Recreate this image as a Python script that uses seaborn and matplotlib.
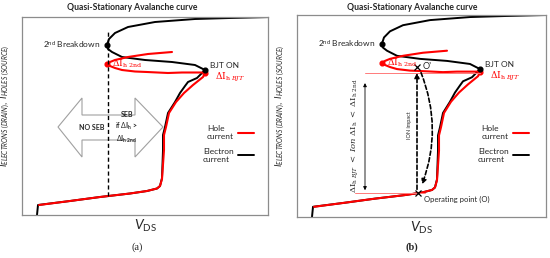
import matplotlib.pyplot as plt
import matplotlib.patches as mpatches
import numpy as np
import seaborn as sns

sns.set_style("white")
plt.rcParams["font.family"] = ["Lato", "DejaVu Sans"]
plt.rcParams["mathtext.fontset"] = "custom"
plt.rcParams["mathtext.it"] = "Lato:italic"
plt.rcParams["mathtext.rm"] = "Lato"
plt.rcParams["mathtext.bf"] = "Lato:bold"

# --- schematic curve data (V_DS vs current, arbitrary units) ---
electron_v = [15, 16, 48, 78, 108, 125, 135, 138, 140, 141, 141, 143, 146, 153,
              158, 163, 166, 175, 183, 173, 150, 123, 100, 90, 86, 85, 87, 93,
              106, 133, 173, 208, 249]
electron_i = [0, 10, 14, 18, 21.5, 24, 26.5, 29, 37, 65, 80, 88, 102, 113,
              122, 129, 133, 137, 145, 150, 153, 155, 158, 163, 166, 170, 176, 182,
              188, 193, 196, 197, 198]
hole_v = [17, 48, 78, 108, 125, 135, 138, 140, 142, 142, 144, 147, 154, 162,
          171, 181, 183, 180, 160, 146, 125, 113, 100, 93, 88, 85, 88, 93,
          106, 126, 150]
hole_i = [10, 14, 18, 21.5, 24, 26.5, 29, 36, 65, 80, 88, 102, 113, 122,
          130, 138, 142, 142.5, 142.5, 142, 143, 143.5, 145, 147, 149, 151, 153, 155,
          158, 161, 163]
BREAKDOWN_IDX = 25   # 2nd breakdown on the electron curve
BJT_E_IDX = 18       # BJT ON on the electron curve
HOLE_2ND_IDX = 25    # ΔIh 2nd on the hole curve
BJT_H_IDX = 16       # ΔIh BJT on the hole curve

seb_v = 86           # SEB boundary voltage
op_v = 121           # operating point O
op_prime_i = 147     # O' current level

RED = "#FF0000"
SPINE = "#8c8c8c"
SERIF_MATH = "dejavuserif"

fig = plt.figure(figsize=(5.5, 2.58), dpi=100)
ax_a = fig.add_axes([22 / 550, 43 / 258, 246 / 550, 198 / 258])
ax_b = fig.add_axes([297 / 550, 41 / 258, 249 / 550, 202 / 258])


def draw_curves(ax, xmax):
    sns.lineplot(x=electron_v, y=electron_i, sort=False, estimator=None,
                 color="black", lw=1.4, ax=ax, label="Electron\ncurrent")
    sns.lineplot(x=hole_v, y=hole_i, sort=False, estimator=None,
                 color=RED, lw=1.5, ax=ax, label="Hole\ncurrent")
    ax.plot([hole_v[HOLE_2ND_IDX], hole_v[BJT_H_IDX]],
            [hole_i[HOLE_2ND_IDX], hole_i[BJT_H_IDX]],
            "o", color=RED, ms=3.4, ls="none")
    ax.plot([electron_v[BREAKDOWN_IDX], electron_v[BJT_E_IDX]],
            [electron_i[BREAKDOWN_IDX], electron_i[BJT_E_IDX]],
            "o", color="black", ms=3.4, ls="none")
    ax.set_xlim(0, xmax)
    ax.set_ylim(0, 198)
    ax.set_xticks([])
    ax.set_yticks([])
    for s in ax.spines.values():
        s.set_color(SPINE)
        s.set_linewidth(0.9)

    # labels on the curve
    ax.text(electron_v[BREAKDOWN_IDX] - 7, electron_i[BREAKDOWN_IDX],
            "2$^{\\rm nd}$ Breakdown", fontsize=6, ha="right", va="center")
    ax.text(188, 149, "BJT ON", fontsize=6, ha="left", va="center")
    ax.text(hole_v[HOLE_2ND_IDX] + 5, hole_i[HOLE_2ND_IDX],
            r"$\Delta \mathrm{I}_{\mathrm{h\ 2nd}}$", color=RED, fontsize=6.5,
            ha="left", va="center", math_fontfamily=SERIF_MATH)
    ax.text(193, 138, r"$\Delta \mathrm{I}_{\mathrm{h}\ \mathit{BJT}}$", color=RED,
            fontsize=6.5, ha="left", va="center", math_fontfamily=SERIF_MATH)

    h, l = ax.get_legend_handles_labels()
    ax.legend(h[::-1], l[::-1], loc="upper left", bbox_to_anchor=(181 / xmax, 0.455),
              frameon=False, markerfirst=False, fontsize=6, borderpad=0,
              borderaxespad=0, handlelength=1.9, handletextpad=0.5, labelspacing=0.9)

    ax.set_xlabel(r"$\mathit{V}_{\mathrm{DS}}$", fontsize=10, labelpad=2)
    ax.set_ylabel(r"$\mathit{I}_{\mathit{ELECTRONS\ (DRAIN)}},\ \mathit{I}_{\mathit{HOLES\ (SOURCE)}}$",
                  fontsize=6.8)
    ax.yaxis.set_label_coords(-10 / xmax, 0.55)


draw_curves(ax_a, 246)
draw_curves(ax_b, 249)

# --- panel (a): SEB boundary and block arrow ---
seb_bottom = np.interp(seb_v, electron_v[:9], electron_i[:9])
ax_a.plot([seb_v, seb_v], [seb_bottom, 185], color="black", lw=1.0,
          dashes=(3, 2), zorder=5)
arrow_pts = [(36, 88), (60, 117), (60, 100), (113, 100), (113, 117), (141, 88),
             (113, 58), (113, 75), (60, 75), (60, 58)]
ax_a.add_patch(mpatches.Polygon(arrow_pts, closed=True, facecolor="white",
                                edgecolor="#a0a0a0", lw=0.8, zorder=4))
ax_a.text(70, 88, "NO SEB", fontsize=5, fontweight="bold", ha="center",
          va="center", zorder=6)
ax_a.text(105, 87, "SEB\nif $\\Delta\\mathbf{I}_{\\mathbf{h}}$ >\n$\\Delta\\mathit{\\mathbf{I}}_{\\mathbf{h\\ 2nd}}$",
          fontsize=5, fontweight="bold", ha="center", va="center", zorder=6,
          linespacing=1.25)

# --- panel (b): ion impact path ---
op_i = np.interp(op_v, hole_v[:8], hole_i[:8])
hole_bjt = hole_i[BJT_H_IDX]
ax_b.plot([68, hole_v[BJT_H_IDX]], [hole_bjt - 1, hole_bjt - 1], color="#ff7a7a", lw=0.7)
ax_b.plot([58, op_v + 7], [op_i, op_i], color="#ff7a7a", lw=0.7)
ax_b.annotate("", xy=(68, 134), xytext=(68, 23.5),
              arrowprops=dict(arrowstyle="<|-|>", color="black", lw=0.6,
                              mutation_scale=5))
ax_b.text(58, 80,
          r"$\Delta \mathrm{I}_{\mathrm{h}\ \mathit{BJT}}\ <\ \mathit{Ion}\ \Delta \mathrm{I}_{\mathrm{h}}\ <\ \Delta \mathrm{I}_{\mathrm{h\ 2nd}}$",
          rotation=90, fontsize=6, ha="center", va="center",
          math_fontfamily=SERIF_MATH)
ax_b.annotate("", xy=(op_v - 1, op_prime_i - 3), xytext=(op_v - 1, op_i + 1),
              arrowprops=dict(arrowstyle="-|>", color="black", lw=1.2,
                              linestyle=(0, (2.5, 1.5)), mutation_scale=7))
ax_b.annotate("", xy=(op_v + 3, op_i + 6), xytext=(op_v + 2, op_prime_i - 3),
              arrowprops=dict(arrowstyle="-|>", color="black", lw=1.2,
                              linestyle=(0, (2.5, 1.5)), mutation_scale=7,
                              connectionstyle="arc3,rad=-0.2"))
ax_b.text(113, 90, "ION impact", rotation=90, fontsize=4, ha="center", va="center")
ax_b.plot([op_v, op_v - 1], [op_i, op_prime_i], "x", color="black", ms=4.5, mew=0.9)
ax_b.text(op_v + 5, op_prime_i + 1, "O'", fontsize=6.5, ha="left", va="center")
ax_b.text(op_v + 6, op_i - 6, "Operating point (O)", fontsize=5.5, ha="left",
          va="center")

# --- titles and panel tags ---
fig.text(132 / 550, 1 - 8 / 258, "Quasi-Stationary Avalanche curve", fontsize=6.2,
         fontweight="bold", ha="center", va="center")
fig.text(412 / 550, 1 - 8 / 258, "Quasi-Stationary Avalanche curve", fontsize=6.2,
         fontweight="bold", ha="center", va="center")
fig.text(137 / 550, 1 - 247 / 258, "(a)", fontsize=7.5, family="Liberation Serif",
         ha="center", va="center")
fig.text(412 / 550, 1 - 247 / 258, "(b)", fontsize=7.5, family="Liberation Serif",
         fontweight="bold", ha="center", va="center")

fig.savefig("out.png", dpi=100)
